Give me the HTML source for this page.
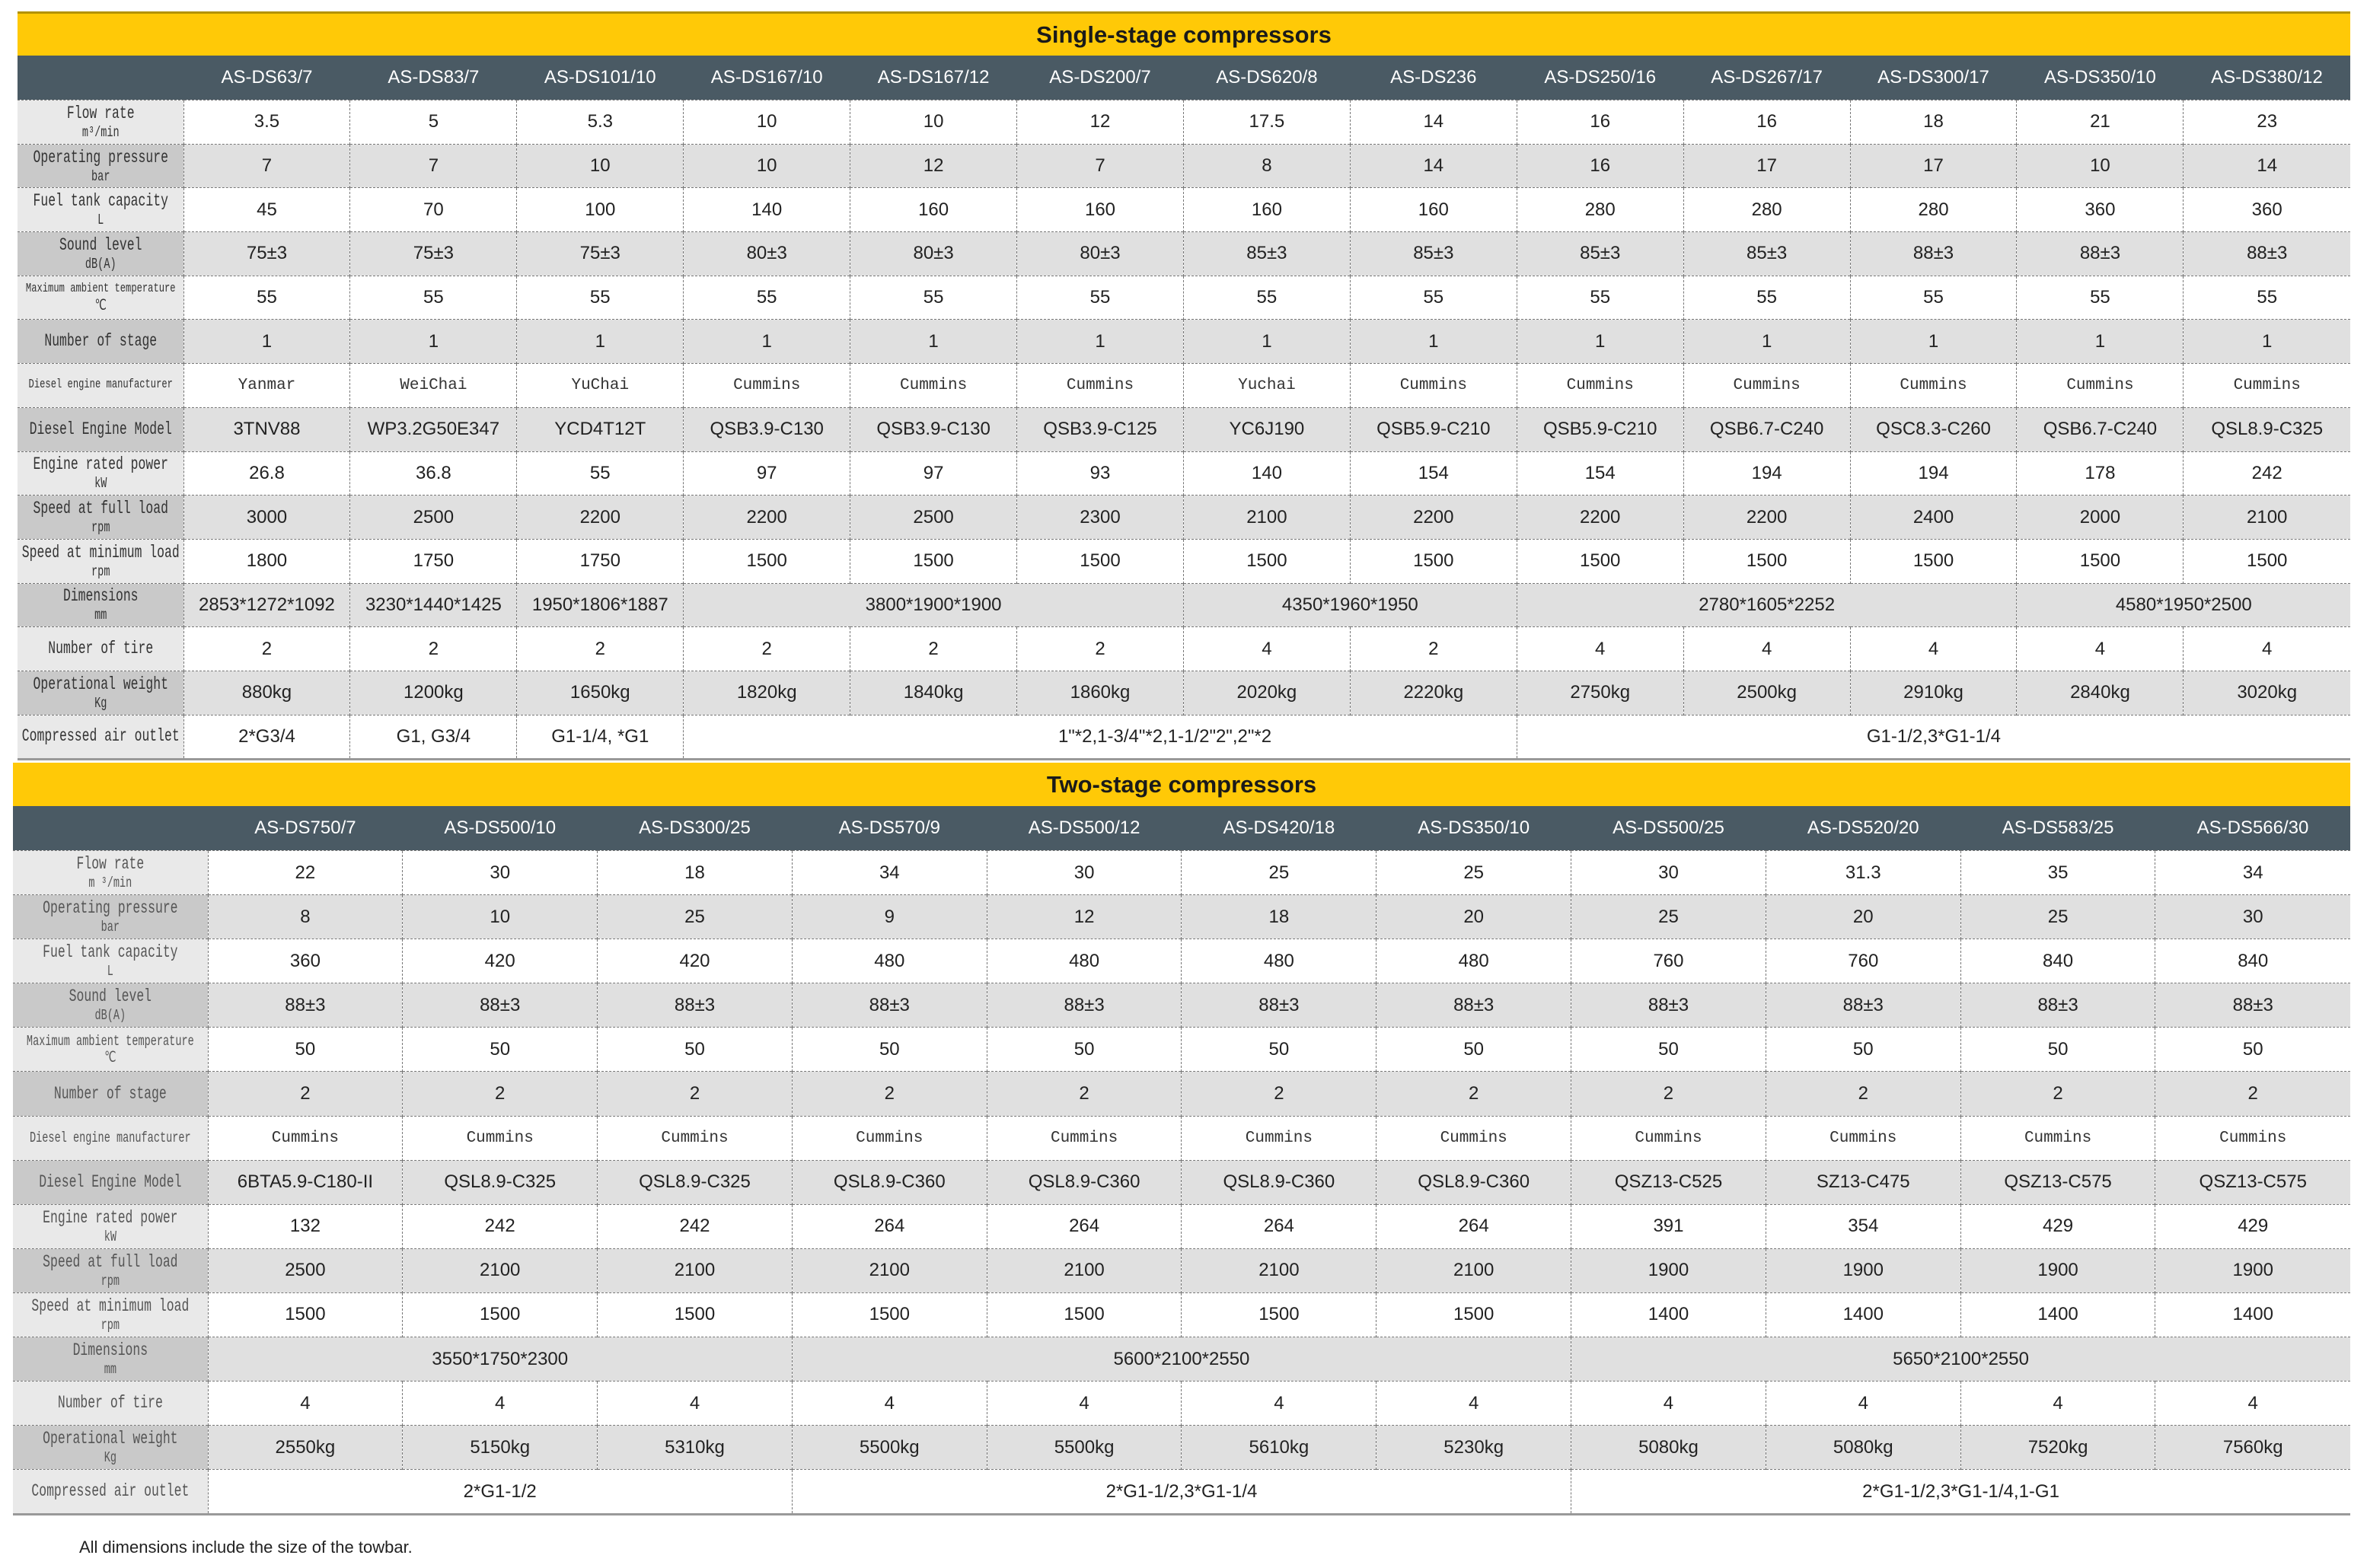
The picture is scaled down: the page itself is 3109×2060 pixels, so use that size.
<!DOCTYPE html>
<html><head><meta charset="utf-8">
<style>
html,body{margin:0;padding:0;background:#fff;width:3109px;height:2060px;overflow:hidden;position:relative}
table{position:absolute;border-collapse:collapse;table-layout:fixed;font-family:"Liberation Sans",Arial,sans-serif;color:#222}
td{padding:0;text-align:center;vertical-align:middle;font-size:24px;border-left:1.5px dashed #777;border-top:1.5px dashed #777;overflow:hidden;white-space:nowrap}
tr.t td{background:#ffc907;border:none;font-weight:bold;font-size:31px;color:#1a1a1a;height:55px}
tr.h td{background:#4a5a64;color:#fff;border:none;font-size:24px;height:58px}
#t1 tr.r td{height:56.7px}
#t2 tr.r td{height:57.1px}
tr.w td{background:#fff}
tr.g td{background:#e0e0e0}
tr.w td.l{background:#e9e9e9}
tr.g td.l{background:#c9c9c9}
td.l{font-family:"Liberation Mono","DejaVu Sans Mono",monospace;color:#333;border-left:none}
td.l span{display:block;width:140%;margin-left:-20%;transform:scaleX(.714);font-size:23px;line-height:27px}
td.l small{font-size:19px;display:block;line-height:22px}
td.l.tiny span{font-size:17px;line-height:22px}
td.m{font-family:"Liberation Mono","Liberation Serif",monospace;font-size:21px;color:#333}
#t2 td.l{color:#555}
#t2 td.l.tiny span{font-size:19px}
tr.last td{border-bottom:3px solid #999}
</style></head><body>

<table id="t1" style="left:23px;top:15px;width:3064px">
<colgroup><col style="width:218px"><col span="13" style="width:218.9px"></colgroup>
<tr class="t"><td colspan="14" style="border-top:3px solid #b39200">Single-stage compressors</td></tr>
<tr class="h"><td></td><td>AS-DS63/7</td><td>AS-DS83/7</td><td>AS-DS101/10</td><td>AS-DS167/10</td><td>AS-DS167/12</td><td>AS-DS200/7</td><td>AS-DS620/8</td><td>AS-DS236</td><td>AS-DS250/16</td><td>AS-DS267/17</td><td>AS-DS300/17</td><td>AS-DS350/10</td><td>AS-DS380/12</td></tr>
<tr class="r w"><td class="l"><span>Flow rate<small>m³/min</small></span></td><td>3.5</td><td>5</td><td>5.3</td><td>10</td><td>10</td><td>12</td><td>17.5</td><td>14</td><td>16</td><td>16</td><td>18</td><td>21</td><td>23</td></tr>
<tr class="r g"><td class="l"><span>Operating pressure<small>bar</small></span></td><td>7</td><td>7</td><td>10</td><td>10</td><td>12</td><td>7</td><td>8</td><td>14</td><td>16</td><td>17</td><td>17</td><td>10</td><td>14</td></tr>
<tr class="r w"><td class="l"><span>Fuel tank capacity<small>L</small></span></td><td>45</td><td>70</td><td>100</td><td>140</td><td>160</td><td>160</td><td>160</td><td>160</td><td>280</td><td>280</td><td>280</td><td>360</td><td>360</td></tr>
<tr class="r g"><td class="l"><span>Sound level<small>dB(A)</small></span></td><td>75±3</td><td>75±3</td><td>75±3</td><td>80±3</td><td>80±3</td><td>80±3</td><td>85±3</td><td>85±3</td><td>85±3</td><td>85±3</td><td>88±3</td><td>88±3</td><td>88±3</td></tr>
<tr class="r w"><td class="l tiny"><span>Maximum ambient temperature<small>℃</small></span></td><td>55</td><td>55</td><td>55</td><td>55</td><td>55</td><td>55</td><td>55</td><td>55</td><td>55</td><td>55</td><td>55</td><td>55</td><td>55</td></tr>
<tr class="r g"><td class="l"><span>Number of stage</span></td><td>1</td><td>1</td><td>1</td><td>1</td><td>1</td><td>1</td><td>1</td><td>1</td><td>1</td><td>1</td><td>1</td><td>1</td><td>1</td></tr>
<tr class="r w"><td class="l tiny"><span>Diesel engine manufacturer</span></td><td class="m">Yanmar</td><td class="m">WeiChai</td><td class="m">YuChai</td><td class="m">Cummins</td><td class="m">Cummins</td><td class="m">Cummins</td><td class="m">Yuchai</td><td class="m">Cummins</td><td class="m">Cummins</td><td class="m">Cummins</td><td class="m">Cummins</td><td class="m">Cummins</td><td class="m">Cummins</td></tr>
<tr class="r g"><td class="l"><span>Diesel Engine Model</span></td><td>3TNV88</td><td>WP3.2G50E347</td><td>YCD4T12T</td><td>QSB3.9-C130</td><td>QSB3.9-C130</td><td>QSB3.9-C125</td><td>YC6J190</td><td>QSB5.9-C210</td><td>QSB5.9-C210</td><td>QSB6.7-C240</td><td>QSC8.3-C260</td><td>QSB6.7-C240</td><td>QSL8.9-C325</td></tr>
<tr class="r w"><td class="l"><span>Engine rated power<small>kW</small></span></td><td>26.8</td><td>36.8</td><td>55</td><td>97</td><td>97</td><td>93</td><td>140</td><td>154</td><td>154</td><td>194</td><td>194</td><td>178</td><td>242</td></tr>
<tr class="r g"><td class="l"><span>Speed at full load<small>rpm</small></span></td><td>3000</td><td>2500</td><td>2200</td><td>2200</td><td>2500</td><td>2300</td><td>2100</td><td>2200</td><td>2200</td><td>2200</td><td>2400</td><td>2000</td><td>2100</td></tr>
<tr class="r w"><td class="l"><span>Speed at minimum load<small>rpm</small></span></td><td>1800</td><td>1750</td><td>1750</td><td>1500</td><td>1500</td><td>1500</td><td>1500</td><td>1500</td><td>1500</td><td>1500</td><td>1500</td><td>1500</td><td>1500</td></tr>
<tr class="r g"><td class="l"><span>Dimensions<small>mm</small></span></td><td>2853*1272*1092</td><td>3230*1440*1425</td><td>1950*1806*1887</td><td colspan="3">3800*1900*1900</td><td colspan="2">4350*1960*1950</td><td colspan="3">2780*1605*2252</td><td colspan="2">4580*1950*2500</td></tr>
<tr class="r w"><td class="l"><span>Number of tire</span></td><td>2</td><td>2</td><td>2</td><td>2</td><td>2</td><td>2</td><td>4</td><td>2</td><td>4</td><td>4</td><td>4</td><td>4</td><td>4</td></tr>
<tr class="r g"><td class="l"><span>Operational weight<small>Kg</small></span></td><td>880kg</td><td>1200kg</td><td>1650kg</td><td>1820kg</td><td>1840kg</td><td>1860kg</td><td>2020kg</td><td>2220kg</td><td>2750kg</td><td>2500kg</td><td>2910kg</td><td>2840kg</td><td>3020kg</td></tr>
<tr class="r w last"><td class="l"><span>Compressed air outlet</span></td><td>2*G3/4</td><td>G1, G3/4</td><td>G1-1/4, *G1</td><td colspan="5" style="padding-left:170px">1"*2,1-3/4"*2,1-1/2"2",2"*2</td><td colspan="5">G1-1/2,3*G1-1/4</td></tr>
</table>

<table id="t2" style="left:17px;top:1002px;width:3070px">
<colgroup><col style="width:256px"><col span="11" style="width:255.8px"></colgroup>
<tr class="t"><td colspan="12" style="height:57px">Two-stage compressors</td></tr>
<tr class="h"><td></td><td>AS-DS750/7</td><td>AS-DS500/10</td><td>AS-DS300/25</td><td>AS-DS570/9</td><td>AS-DS500/12</td><td>AS-DS420/18</td><td>AS-DS350/10</td><td>AS-DS500/25</td><td>AS-DS520/20</td><td>AS-DS583/25</td><td>AS-DS566/30</td></tr>
<tr class="r w"><td class="l"><span>Flow rate<small>m ³/min</small></span></td><td>22</td><td>30</td><td>18</td><td>34</td><td>30</td><td>25</td><td>25</td><td>30</td><td>31.3</td><td>35</td><td>34</td></tr>
<tr class="r g"><td class="l"><span>Operating pressure<small>bar</small></span></td><td>8</td><td>10</td><td>25</td><td>9</td><td>12</td><td>18</td><td>20</td><td>25</td><td>20</td><td>25</td><td>30</td></tr>
<tr class="r w"><td class="l"><span>Fuel tank capacity<small>L</small></span></td><td>360</td><td>420</td><td>420</td><td>480</td><td>480</td><td>480</td><td>480</td><td>760</td><td>760</td><td>840</td><td>840</td></tr>
<tr class="r g"><td class="l"><span>Sound level<small>dB(A)</small></span></td><td>88±3</td><td>88±3</td><td>88±3</td><td>88±3</td><td>88±3</td><td>88±3</td><td>88±3</td><td>88±3</td><td>88±3</td><td>88±3</td><td>88±3</td></tr>
<tr class="r w"><td class="l tiny"><span>Maximum ambient temperature<small>℃</small></span></td><td>50</td><td>50</td><td>50</td><td>50</td><td>50</td><td>50</td><td>50</td><td>50</td><td>50</td><td>50</td><td>50</td></tr>
<tr class="r g"><td class="l"><span>Number of stage</span></td><td>2</td><td>2</td><td>2</td><td>2</td><td>2</td><td>2</td><td>2</td><td>2</td><td>2</td><td>2</td><td>2</td></tr>
<tr class="r w"><td class="l tiny"><span>Diesel engine manufacturer</span></td><td class="m">Cummins</td><td class="m">Cummins</td><td class="m">Cummins</td><td class="m">Cummins</td><td class="m">Cummins</td><td class="m">Cummins</td><td class="m">Cummins</td><td class="m">Cummins</td><td class="m">Cummins</td><td class="m">Cummins</td><td class="m">Cummins</td></tr>
<tr class="r g"><td class="l"><span>Diesel Engine Model</span></td><td>6BTA5.9-C180-II</td><td>QSL8.9-C325</td><td>QSL8.9-C325</td><td>QSL8.9-C360</td><td>QSL8.9-C360</td><td>QSL8.9-C360</td><td>QSL8.9-C360</td><td>QSZ13-C525</td><td>SZ13-C475</td><td>QSZ13-C575</td><td>QSZ13-C575</td></tr>
<tr class="r w"><td class="l"><span>Engine rated power<small>kW</small></span></td><td>132</td><td>242</td><td>242</td><td>264</td><td>264</td><td>264</td><td>264</td><td>391</td><td>354</td><td>429</td><td>429</td></tr>
<tr class="r g"><td class="l"><span>Speed at full load<small>rpm</small></span></td><td>2500</td><td>2100</td><td>2100</td><td>2100</td><td>2100</td><td>2100</td><td>2100</td><td>1900</td><td>1900</td><td>1900</td><td>1900</td></tr>
<tr class="r w"><td class="l"><span>Speed at minimum load<small>rpm</small></span></td><td>1500</td><td>1500</td><td>1500</td><td>1500</td><td>1500</td><td>1500</td><td>1500</td><td>1400</td><td>1400</td><td>1400</td><td>1400</td></tr>
<tr class="r g"><td class="l"><span>Dimensions<small>mm</small></span></td><td colspan="3">3550*1750*2300</td><td colspan="4">5600*2100*2550</td><td colspan="4">5650*2100*2550</td></tr>
<tr class="r w"><td class="l"><span>Number of tire</span></td><td>4</td><td>4</td><td>4</td><td>4</td><td>4</td><td>4</td><td>4</td><td>4</td><td>4</td><td>4</td><td>4</td></tr>
<tr class="r g"><td class="l"><span>Operational weight<small>Kg</small></span></td><td>2550kg</td><td>5150kg</td><td>5310kg</td><td>5500kg</td><td>5500kg</td><td>5610kg</td><td>5230kg</td><td>5080kg</td><td>5080kg</td><td>7520kg</td><td>7560kg</td></tr>
<tr class="r w last"><td class="l"><span>Compressed air outlet</span></td><td colspan="3">2*G1-1/2</td><td colspan="4">2*G1-1/2,3*G1-1/4</td><td colspan="4">2*G1-1/2,3*G1-1/4,1-G1</td></tr>
</table>

<div style="position:absolute;left:104px;top:2020px;font-family:'Liberation Sans',Arial,sans-serif;font-size:22px;color:#222">All dimensions include the size of the towbar.</div>
</body></html>
